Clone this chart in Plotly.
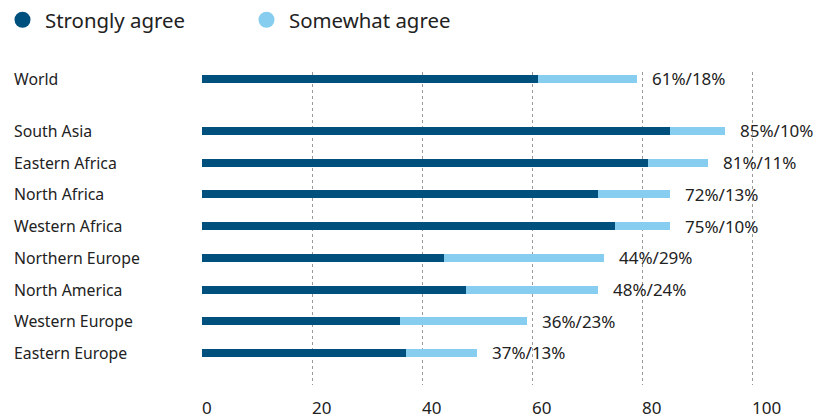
import plotly.graph_objects as go

regions = ["World", "South Asia", "Eastern Africa", "North Africa", "Western Africa",
           "Northern Europe", "North America", "Western Europe", "Eastern Europe"]
strongly = [61, 85, 81, 72, 75, 44, 48, 36, 37]
somewhat = [18, 10, 11, 13, 10, 29, 24, 23, 13]
tick_vals = [0, 20, 40, 60, 80, 100]
tick_text = ["0", "20", "40", "60", "80", "100"]

DARK = "#00507d"
LIGHT = "#86cdf0"
TXT = "#222222"
FONT = "Noto Sans"

W, H = 815, 415

# vertical positions: extra gap below "World"
n = len(regions)
ypos = []
for i in range(n):
    if i == 0:
        ypos.append(n - 1 + 0.64)
    else:
        ypos.append(n - 1 - i)

fig = go.Figure()
fig.add_trace(go.Bar(y=ypos, x=strongly, orientation="h", marker=dict(color=DARK, line_width=0),
                     width=0.25, showlegend=False, hoverinfo="x"))
fig.add_trace(go.Bar(y=ypos, x=somewhat, orientation="h", marker=dict(color=LIGHT, line_width=0),
                     width=0.25, showlegend=False, hoverinfo="x"))
# legend entries
fig.add_trace(go.Scatter(x=[None], y=[None], mode="markers", name="Strongly agree",
                         marker=dict(color=DARK, size=16, symbol="circle")))
fig.add_trace(go.Scatter(x=[None], y=[None], mode="markers", name="Somewhat agree",
                         marker=dict(color=LIGHT, size=16, symbol="circle")))

annotations = []
for r, y, s, w in zip(regions, ypos, strongly, somewhat):
    annotations.append(dict(x=s + w, y=y, xref="x", yref="y", text=f"{s}%/{w}%",
                            showarrow=False, xanchor="left", xshift=13,
                            font=dict(family=FONT, size=17, color=TXT)))
    annotations.append(dict(x=-190 / 605, y=y, xref="paper", yref="y", text=r,
                            showarrow=False, xanchor="left",
                            font=dict(family=FONT, size=15.8, color=TXT)))

fig.update_layout(
    width=W, height=H,
    barmode="stack",
    bargap=0,
    plot_bgcolor="white", paper_bgcolor="white",
    margin=dict(l=202, r=8, t=72, b=30, autoexpand=False),
    font=dict(family=FONT, color=TXT),
    annotations=annotations,
    legend=dict(orientation="h", xref="container", yref="container", x=-2 / W, y=1,
                xanchor="left", yanchor="top", entrywidth=194, entrywidthmode="pixels",
                traceorder="normal", itemwidth=35,
                font=dict(family=FONT, size=20.4, color=TXT), itemclick=False),
    xaxis=dict(range=[0, 110], tickvals=tick_vals, ticktext=tick_text, showgrid=True,
               gridcolor="#9a9a9a", griddash="dot", gridwidth=1, zeroline=False,
               showline=False, ticks="", ticklabelposition="outside right",
               ticklabelstandoff=11,
               tickfont=dict(family=FONT, size=17, color=TXT), fixedrange=True),
    yaxis=dict(range=[-1.01, 8.86], showticklabels=False, showgrid=False, zeroline=False,
               showline=False, ticks="", fixedrange=True),
)

fig.write_html("out.html", config={"displayModeBar": False},
               post_script="document.body.style.margin='0';document.body.style.overflow='hidden';")
